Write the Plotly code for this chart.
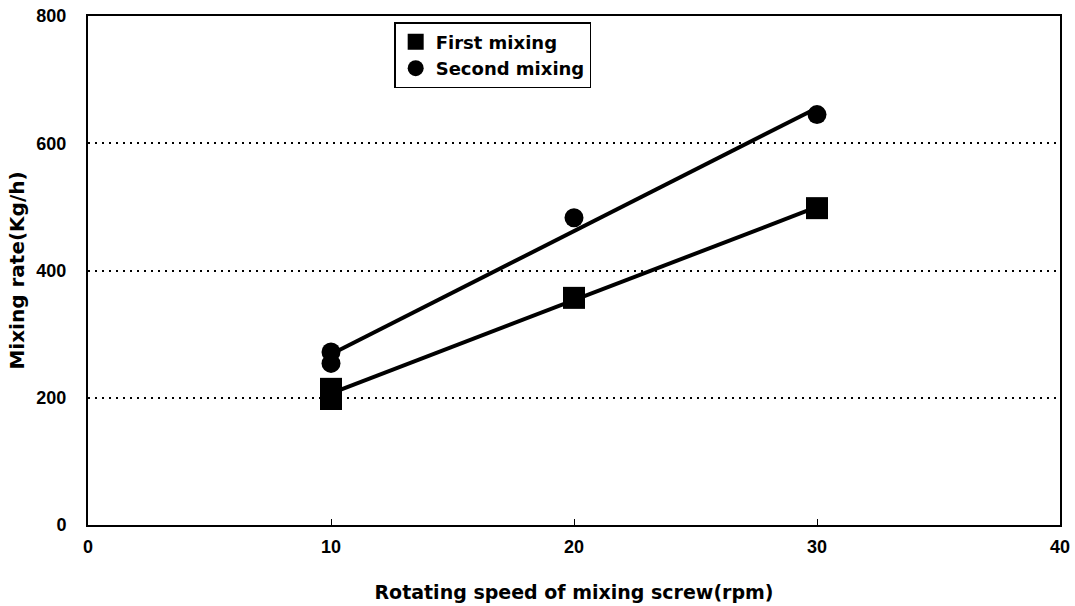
import numpy as np
import plotly.graph_objects as go

# Data
first_x = [10, 10, 20, 30]
first_y = [214, 198, 357, 498]
second_x = [10, 10, 20, 30]
second_y = [272, 254, 483, 645]

x_ticks = [0, 10, 20, 30, 40]
y_ticks = [0, 200, 400, 600, 800]

TICKFONT = "Liberation Sans, Arial"
WIDEFONT = "DejaVu Sans, Verdana"

fig = go.Figure()

# Linear trend lines (fitted from the data, like a spreadsheet trendline)
for xs, ys in [(first_x, first_y), (second_x, second_y)]:
    k, b = np.polyfit(xs, ys, 1)
    lx = [min(xs), max(xs)]
    fig.add_trace(go.Scatter(x=lx, y=[k * v + b for v in lx], mode="lines",
                             line=dict(color="black", width=4),
                             showlegend=False, hoverinfo="skip"))

fig.add_trace(go.Scatter(x=first_x, y=first_y, mode="markers", name="First mixing",
                         marker=dict(symbol="square", size=22, color="black")))
fig.add_trace(go.Scatter(x=second_x, y=second_y, mode="markers", name="Second mixing",
                         marker=dict(symbol="circle", size=19, color="black")))

fig.update_layout(
    width=1075, height=606,
    margin=dict(l=88, r=15, t=16, b=81, autoexpand=False),
    paper_bgcolor="white", plot_bgcolor="white",
    font=dict(family=TICKFONT, color="black", size=16),
    legend=dict(x=0.315, y=0.988, xanchor="left", yanchor="top",
                bordercolor="black", borderwidth=1.5, bgcolor="white",
                font=dict(family=WIDEFONT, size=18, weight="bold"),
                itemsizing="trace", itemwidth=30, tracegroupgap=0),
)
fig.update_xaxes(range=[0, 40], tickvals=x_ticks, ticktext=[str(v) for v in x_ticks],
                 automargin=False,
                 showgrid=False, zeroline=False,
                 showline=True, linecolor="black", linewidth=2, mirror=True,
                 ticks="inside", ticklen=6, tickcolor="black",
                 ticklabelstandoff=4,
                 tickfont=dict(family=TICKFONT, size=18, weight="bold"),
                 title=dict(text="Rotating speed of mixing screw(rpm)",
                            font=dict(family=WIDEFONT, size=19, weight="bold"), standoff=30))
fig.update_yaxes(range=[0, 800], tickvals=y_ticks, ticktext=[str(v) for v in y_ticks],
                 automargin=False,
                 showgrid=True, gridcolor="black", griddash="2px,5px", gridwidth=2,
                 zeroline=False,
                 showline=True, linecolor="black", linewidth=2, mirror=True,
                 ticks="", ticklabelstandoff=16,
                 tickfont=dict(family=TICKFONT, size=18, weight="bold"),
                 title=dict(text="Mixing rate(Kg/h)",
                            font=dict(family=WIDEFONT, size=20, weight="bold"),
                            standoff=6))

fig.write_html("out.html", config={"displayModeBar": False})

# remove the default page margin so the figure sits at the window's top-left corner
with open("out.html", encoding="utf-8") as f:
    html = f.read()
html = html.replace("<body>", '<body style="margin:0;padding:0;">', 1)
with open("out.html", "w", encoding="utf-8") as f:
    f.write(html)
